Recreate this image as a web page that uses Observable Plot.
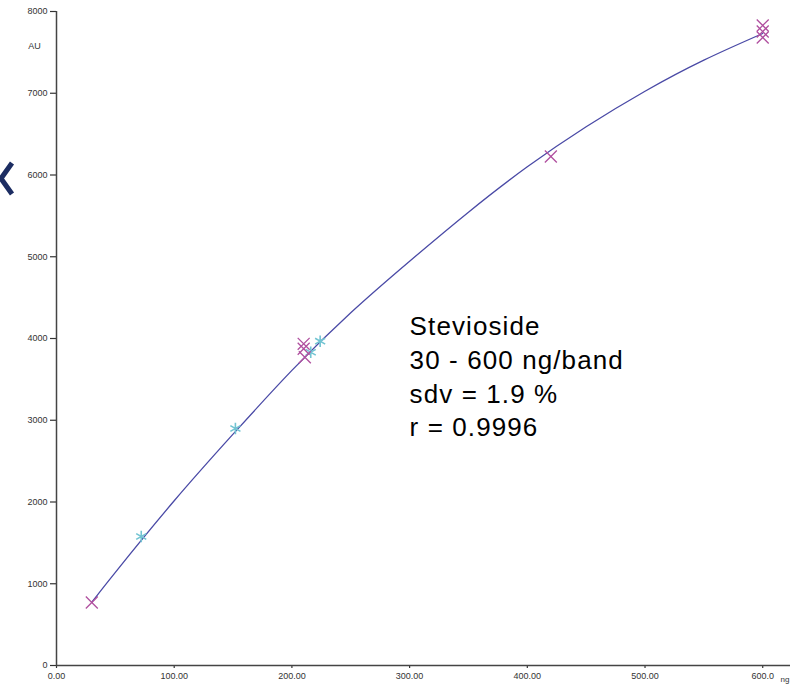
<!DOCTYPE html>
<html><head><meta charset="utf-8">
<script src="https://cdn.jsdelivr.net/npm/d3@7"></script>
<script src="https://cdn.jsdelivr.net/npm/@observablehq/plot@0.6"></script>
<style>
body{margin:0;background:#fff;}
#wrap{position:relative;width:790px;height:684px;overflow:hidden;background:#fff;}
#chev{position:absolute;left:0;top:0;pointer-events:none;}
</style></head><body><div id="wrap"></div>
<script>
// Calibration standards (ng/band vs AU)
const trackAX = [30, 210, 210, 211, 420, 600, 600, 600];
const trackAY = [770, 3935, 3874, 3771, 6226, 7829, 7755, 7682];
const trackBX = [72, 152, 216, 224];
const trackBY = [1578, 2899, 3832, 3967];
// Fitted calibration curve
const curveX = [30, 50, 100, 150, 200, 250, 300, 350, 400, 450, 500, 550, 600];
const curveY = [774, 1140, 2015, 2830, 3610, 4315, 4945, 5545, 6100, 6590, 7025, 7405, 7731];
// Axis ticks and labels
const xTicks = [0, 100, 200, 300, 400, 500, 600];
const xTickLabels = ["0.00", "100.00", "200.00", "300.00", "400.00", "500.00", "600.0"];
const yTicks = [0, 1000, 2000, 3000, 4000, 5000, 6000, 7000, 8000];
const annotationLines = ["Stevioside", "30 - 600 ng/band", "sdv = 1.9 %", "r = 0.9996"];
const annotationY = [4037, 3627, 3217, 2807];

const ptsA = trackAX.map((x, i) => ({x, y: trackAY[i]}));
const ptsB = trackBX.map((x, i) => ({x, y: trackBY[i]}));
const curve = curveX.map((x, i) => ({x, y: curveY[i]}));
const notes = annotationLines.map((t, i) => ({t, y: annotationY[i]}));

const chart = Plot.plot({
  width: 790, height: 684,
  marginLeft: 56, marginRight: 0, marginTop: 11, marginBottom: 19,
  style: {fontFamily: "'Liberation Sans', Arial, sans-serif", background: "#fff", overflow: "visible"},
  x: {domain: [0, 623.6]},
  y: {domain: [0, 8000]},
  marks: [
    Plot.axisY({ticks: yTicks, tickSize: 6, tickPadding: 3, fontSize: 9, label: null,
      tickFormat: d => String(d), color: "#333", strokeWidth: 1.2}),
    Plot.axisX({ticks: xTicks, tickSize: 3, tickPadding: 4, fontSize: 9, label: null,
      tickFormat: (d, i) => xTickLabels[xTicks.indexOf(d)], color: "#333", strokeWidth: 1.2}),
    Plot.ruleX([0], {stroke: "#444", strokeWidth: 1.5}),
    Plot.ruleY([0], {stroke: "#444", strokeWidth: 1.5}),
    Plot.text(["AU"], {frameAnchor: "top-left", dx: -22, dy: 37, lineAnchor: "bottom", textAnchor: "middle", fontSize: 9, fill: "#333"}),
    Plot.text(["ng"], {frameAnchor: "bottom-right", dx: -1, dy: 16, lineAnchor: "bottom", textAnchor: "end", fontSize: 8, fill: "#333"}),
    Plot.line(curve, {x: "x", y: "y", stroke: "#4a4aa6", strokeWidth: 1.3, curve: "natural"}),
    Plot.dot(ptsB, {x: "x", y: "y", symbol: "asterisk", r: 5.5, stroke: "#72c4d2", strokeWidth: 1.6}),
    Plot.dot(ptsA, {x: "x", y: "y", symbol: "times", r: 5.5, stroke: "#b04f9f", strokeWidth: 1.3}),
    Plot.text(notes, {x: () => 300, y: "y", text: "t", textAnchor: "start", lineAnchor: "bottom", fontSize: 26, fill: "#000"})
  ]
});
d3.select(chart).selectAll('g[font-size="26"]').attr("letter-spacing", "1.1px");
document.getElementById("wrap").appendChild(chart);

// decorative navigation chevron at left edge (as in the reference screenshot)
const ns = "http://www.w3.org/2000/svg";
const chev = document.createElementNS(ns, "svg");
chev.setAttribute("id", "chev"); chev.setAttribute("width", 20); chev.setAttribute("height", 684);
const p = document.createElementNS(ns, "polyline");
p.setAttribute("points", "12,163 1,178.5 12,194");
p.setAttribute("fill", "none"); p.setAttribute("stroke", "#1c2d62"); p.setAttribute("stroke-width", 5);
chev.appendChild(p);
document.getElementById("wrap").appendChild(chev);
</script></body></html>
